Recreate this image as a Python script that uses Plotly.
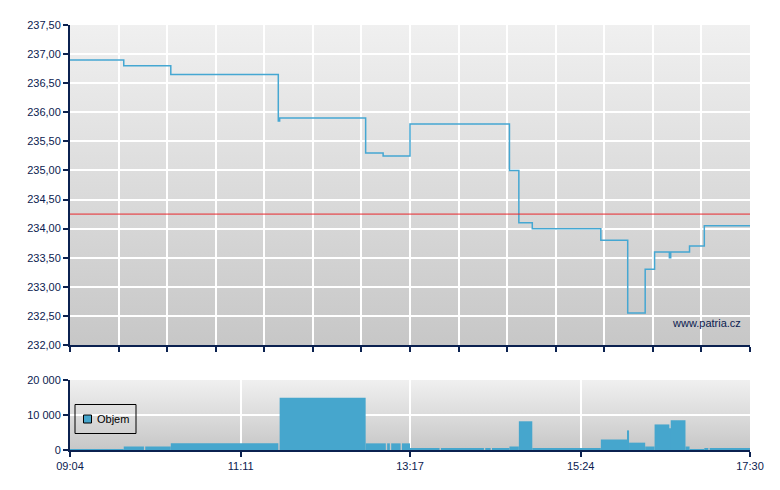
import base64
import plotly.graph_objects as go

# ---------------- data ----------------
price_times = ["09:04", "09:44", "10:19", "11:39", "11:40", "12:44", "12:57", "13:17",
               "14:31", "14:38", "14:48", "15:39", "15:59", "16:12", "16:19", "16:30",
               "16:31", "16:45", "16:56", "17:30"]
price_values = [236.90, 236.80, 236.65, 235.85, 235.90, 235.30, 235.25, 235.80,
                235.00, 234.10, 234.00, 233.80, 232.55, 233.30, 233.60, 233.50,
                233.60, 233.70, 234.05, 234.05]
previous_close = 234.25

vol_start = ["09:04", "09:44", "10:00", "10:19", "11:40", "12:44", "13:00", "13:03",
             "13:11", "13:17", "13:40", "14:13", "14:18", "14:31", "14:38", "14:48",
             "15:39", "15:59", "16:00", "16:12", "16:19", "16:30", "16:31", "16:42",
             "16:45", "16:56", "17:00"]
vol_end = ["09:44", "09:59", "10:19", "11:39", "12:44", "12:59", "13:02", "13:10",
           "13:17", "13:39", "14:12", "14:17", "14:31", "14:38", "14:48", "15:39",
           "15:59", "16:00", "16:12", "16:19", "16:30", "16:31", "16:42", "16:45",
           "16:56", "16:59", "17:30"]
vol_values = [200, 1000, 1000, 1900, 14900, 1900, 1900, 1900,
              1900, 500, 500, 500, 500, 1000, 8200, 500,
              3000, 5600, 2100, 1000, 7300, 6200, 8500, 1000,
              200, 500, 500]

x_tick_labels = ["09:04", "11:11", "13:17", "15:24", "17:30"]
price_range = [232.0, 237.5]
vol_range = [0, 20000]
legend_label = "Objem"
watermark = "www.patria.cz"

# ---------------- helpers ----------------
def to_min(s):
    h, m = s.split(":")
    return int(h) * 60 + int(m)

t0 = to_min(x_tick_labels[0])
t1 = to_min(x_tick_labels[-1])
top_grid = [t0 + k * (t1 - t0) / 14 for k in range(15)]
bottom_ticks = [to_min(s) for s in x_tick_labels]

px_ = [to_min(s) for s in price_times]
vs = [to_min(s) for s in vol_start]
vw = [to_min(e) - to_min(s) for s, e in zip(vol_start, vol_end)]

NAVY = "#0b2150"
LINE_BLUE = "#45a7d2"
BAR_BLUE = "#46a6cd"
FONT = "Liberation Sans, Arial, sans-serif"

svg = ('<svg xmlns="http://www.w3.org/2000/svg" width="10" height="100" viewBox="0 0 10 100" '
       'preserveAspectRatio="none"><defs><linearGradient id="g" x1="0" y1="0" x2="0" y2="1">'
       '<stop offset="0" stop-color="#f0f0f0"/><stop offset="1" stop-color="#c7c7c7"/>'
       '</linearGradient></defs><rect x="0" y="0" width="10" height="100" fill="url(#g)"/></svg>')
grad_src = "data:image/svg+xml;base64," + base64.b64encode(svg.encode()).decode()

# page body has an 8px margin, so the figure is 8px smaller and margins shifted
W, H = 772, 482
ML, MR, MT, MB = 62, 30, 17, 40
plot_h = H - MT - MB          # 425 px -> page y 25..450
top_dom = [(450 - 345) / plot_h, 1.0]
bot_dom = [0.0, (450 - 380) / plot_h]

fig = go.Figure()

fig.add_trace(go.Scatter(
    x=px_, y=price_values, mode="lines", line=dict(color=LINE_BLUE, width=1.5, shape="hv"),
    xaxis="x", yaxis="y", showlegend=False, hoverinfo="skip"))

fig.add_trace(go.Bar(
    x=vs, y=vol_values, width=vw, offset=0, marker=dict(color=BAR_BLUE, line=dict(width=0)),
    xaxis="x2", yaxis="y2", showlegend=False, hoverinfo="skip"))

axis_common = dict(showline=True, linecolor=NAVY, linewidth=2, ticks="outside",
                   tickcolor=NAVY, tickwidth=1.5, ticklen=5, gridcolor="white", gridwidth=1.5,
                   zeroline=False, tickfont=dict(family=FONT, size=11, color=NAVY))

fig.update_layout(
    width=W, height=H,
    margin=dict(l=ML, r=MR, t=MT, b=MB, autoexpand=False),
    paper_bgcolor="white", plot_bgcolor="#dcdcdc",
    separators=", ",
    font=dict(family=FONT, size=11, color=NAVY),
    showlegend=False,
    xaxis=dict(domain=[0, 1], anchor="y", range=[t0, t1], tickmode="array",
               tickvals=top_grid, showticklabels=False, showgrid=True, **axis_common),
    yaxis=dict(domain=top_dom, anchor="x", range=price_range, tickmode="linear",
               tick0=232, dtick=0.5, tickformat=".2f", showgrid=True, **axis_common),
    xaxis2=dict(domain=[0, 1], anchor="y2", range=[t0, t1], tickmode="array",
                tickvals=bottom_ticks, ticktext=x_tick_labels, showgrid=True, **axis_common),
    yaxis2=dict(domain=bot_dom, anchor="x2", range=vol_range, tickmode="linear",
                tick0=0, dtick=10000, tickformat=",d", showgrid=True, **axis_common),
    images=[
        dict(source=grad_src, xref="paper", yref="paper", x=0, y=top_dom[1],
             sizex=1, sizey=top_dom[1] - top_dom[0], xanchor="left", yanchor="top",
             sizing="stretch", layer="below"),
        dict(source=grad_src, xref="paper", yref="paper", x=0, y=bot_dom[1],
             sizex=1, sizey=bot_dom[1] - bot_dom[0], xanchor="left", yanchor="top",
             sizing="stretch", layer="below"),
    ],
)

# previous close reference line
fig.add_shape(type="line", xref="x domain", yref="y", x0=0, x1=1,
              y0=previous_close, y1=previous_close, line=dict(color="#e8262b", width=1))

# legend box (drawn manually to match the original layout)
fig.add_shape(type="rect", xref="x2 domain", yref="y2 domain", x0=5 / 680, x1=66 / 680,
              y0=(450 - 433.5) / 70, y1=(450 - 404.5) / 70,
              line=dict(color="black", width=1), fillcolor="rgba(0,0,0,0)")
fig.add_shape(type="rect", xref="x2 domain", yref="y2 domain", x0=13.5 / 680, x1=21.5 / 680,
              y0=(450 - 423) / 70, y1=(450 - 415) / 70,
              line=dict(color="black", width=1), fillcolor=BAR_BLUE)
fig.add_annotation(text=legend_label, xref="x2 domain", yref="y2 domain", x=25 / 680,
                   y=(450 - 419) / 70, xanchor="left", yanchor="middle", showarrow=False,
                   font=dict(family=FONT, size=11, color="black"))

fig.add_annotation(text=watermark, xref="x domain", yref="y domain", x=(743 - 70) / 680,
                   y=(345 - 323) / 320, xanchor="right", yanchor="middle", showarrow=False,
                   font=dict(family=FONT, size=11, color=NAVY))

fig.write_html("out.html")
